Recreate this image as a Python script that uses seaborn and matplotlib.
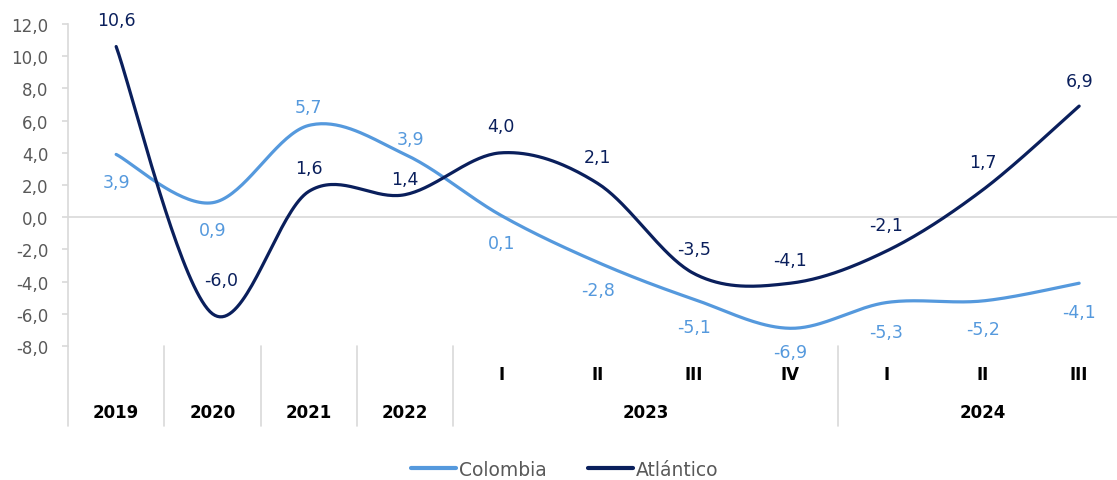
import numpy as np
import pandas as pd
import matplotlib
matplotlib.use("Agg")
import matplotlib.pyplot as plt
import matplotlib.transforms as mtransforms
from matplotlib.lines import Line2D
import seaborn as sns

# ---- data ----
quarters = ["", "", "", "", "I", "II", "III", "IV", "I", "II", "III"]
years = ["2019", "2020", "2021", "2022", "2023", "2024"]
year_spans = [(0, 0), (1, 1), (2, 2), (3, 3), (4, 7), (8, 10)]
colombia = [3.9, 0.9, 5.7, 3.9, 0.1, -2.8, -5.1, -6.9, -5.3, -5.2, -4.1]
atlantico = [10.6, -6.0, 1.6, 1.4, 4.0, 2.1, -3.5, -4.1, -2.1, 1.7, 6.9]
yticks = [-8, -6, -4, -2, 0, 2, 4, 6, 8, 10, 12]

# label placement: offset in points (dx, dy)
col_off = [(0, -20), (0, -20), (0, 13), (4, 11), (0, -20), (0, -20), (0, -20), (0, -17), (0, -21), (0, -20), (0, -21)]
atl_off = [(0, 19), (6, 24), (0, 17), (0, 11), (0, 19), (0, 19), (0, 18), (0, 17), (0, 19), (0, 20), (0, 18)]

C_COL = "#5599DD"
C_ATL = "#0A1F5C"
GRAY = "#595959"
LGRAY = "#D9D9D9"

sns.set_theme(style="white")
plt.rcParams["font.family"] = ["DejaVu Sans"]

fig = plt.figure(figsize=(11.17, 4.81), dpi=100)
W, H = 1117, 481
left_px, right_px, top_px, bot_px = 68, 1117, 25, 347
ax = fig.add_axes([left_px / W, 1 - bot_px / H, (right_px - left_px) / W, (bot_px - top_px) / H])

step_px = 96.3
x = np.arange(len(colombia))


def smooth(xs, ys, n=40):
    # Excel-like smoothing: cubic Bezier through points (Catmull-Rom control points)
    xs = np.asarray(xs, float)
    ys = np.asarray(ys, float)
    P = np.column_stack([xs, ys])
    Pp = np.vstack([P[0], P, P[-1]])
    out = []
    t = np.linspace(0, 1, n)[:, None]
    for i in range(len(P) - 1):
        p0, p1, p2, p3 = Pp[i], Pp[i + 1], Pp[i + 2], Pp[i + 3]
        c1 = p1 + (p2 - p0) / 6
        c2 = p2 - (p3 - p1) / 6
        seg = (1 - t) ** 3 * p1 + 3 * (1 - t) ** 2 * t * c1 + 3 * (1 - t) * t ** 2 * c2 + t ** 3 * p2
        out.append(seg if i == 0 else seg[1:])
    out = np.vstack(out)
    return out[:, 0], out[:, 1]


frames = []
for name, vals in [("Colombia", colombia), ("Atlántico", atlantico)]:
    sx, sy = smooth(x, vals)
    frames.append(pd.DataFrame({"x": sx, "y": sy, "serie": name}))
df = pd.concat(frames, ignore_index=True)

sns.lineplot(data=df, x="x", y="y", hue="serie", palette={"Colombia": C_COL, "Atlántico": C_ATL},
             linewidth=2.3, sort=False, estimator=None, ax=ax, legend=False)

ax.set_xlim(-0.5, -0.5 + (right_px - left_px) / step_px)
ax.set_ylim(-8, 12)
ax.set_yticks(yticks)
ax.set_yticklabels([f"{v:.1f}".replace(".", ",") for v in yticks], color=GRAY, fontsize=12)
ax.set_xticks([])
ax.set_xlabel("")
ax.set_ylabel("")
ax.axhline(0, color=LGRAY, lw=1.2, zorder=0)
for s in ["top", "right", "bottom"]:
    ax.spines[s].set_visible(False)
ax.spines["left"].set_color(LGRAY)
ax.spines["left"].set_linewidth(1.2)
ax.tick_params(axis="y", length=4, color=LGRAY, width=1.2, left=True, pad=10)

# data labels
for xi, v, (dx, dy) in zip(x, colombia, col_off):
    ax.annotate(f"{v:.1f}".replace(".", ","), (xi, v), xytext=(dx, dy), textcoords="offset points",
                ha="center", va="center", color=C_COL, fontsize=12.5, annotation_clip=False)
for xi, v, (dx, dy) in zip(x, atlantico, atl_off):
    ax.annotate(f"{v:.1f}".replace(".", ","), (xi, v), xytext=(dx, dy), textcoords="offset points",
                ha="center", va="center", color=C_ATL, fontsize=12.5, annotation_clip=False)

# multi-level category axis
trans = mtransforms.blended_transform_factory(ax.transData, ax.transAxes)
h_px = bot_px - top_px
y_sep = (bot_px - 427) / h_px
y_q = (bot_px - 375) / h_px
y_y = (bot_px - 413) / h_px
for xi, q in zip(x, quarters):
    if q:
        ax.text(xi, y_q, q, transform=trans, ha="center", va="center", fontsize=12,
                fontweight="bold", color="black", clip_on=False)
for yr, (a, b) in zip(years, year_spans):
    ax.text((a + b) / 2, y_y, yr, transform=trans, ha="center", va="center", fontsize=12,
            fontweight="bold", color="black", clip_on=False)
for a, b in year_spans:
    ax.add_line(Line2D([a - 0.5, a - 0.5], [0, y_sep], transform=trans, color=LGRAY, lw=1.2, clip_on=False))

# legend
handles = [Line2D([0], [0], color=C_COL, lw=3), Line2D([0], [0], color=C_ATL, lw=3)]
fig.legend(handles, ["Colombia", "Atlántico"], loc="center", bbox_to_anchor=(565 / W, 1 - 470 / H),
           ncol=2, frameon=False, fontsize=13.5, handlelength=2.4, handletextpad=0.15,
           columnspacing=2.2, labelcolor=GRAY)

fig.savefig("out.png", dpi=100)
